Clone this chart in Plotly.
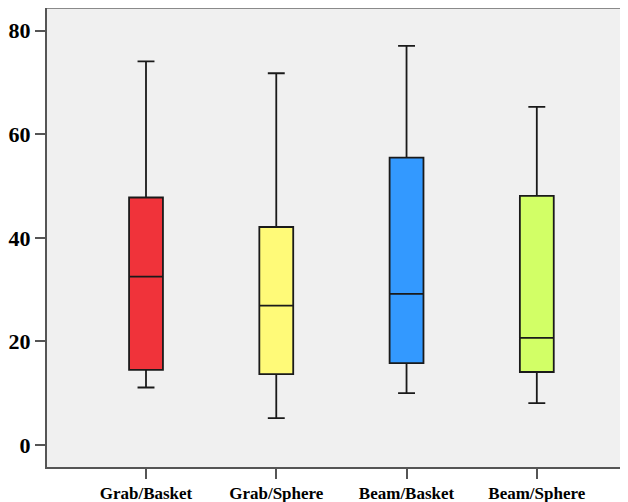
import plotly.graph_objects as go

categories = ["Grab/Basket", "Grab/Sphere", "Beam/Basket", "Beam/Sphere"]
lower = [11.1, 5.2, 10.0, 8.1]
q1 = [14.5, 13.7, 15.8, 14.1]
median = [32.5, 26.9, 29.2, 20.7]
q3 = [47.8, 42.1, 55.5, 48.1]
upper = [74.1, 71.8, 77.1, 65.3]
colors = ["#F0333A", "#FFFA78", "#3399FF", "#D2FF66"]
y_ticks = [0, 20, 40, 60, 80]

fig = go.Figure()
for i, cat in enumerate(categories):
    fig.add_trace(go.Box(
        x=[i], q1=[q1[i]], median=[median[i]], q3=[q3[i]],
        lowerfence=[lower[i]], upperfence=[upper[i]],
        fillcolor=colors[i], line=dict(color="#1a1a1a", width=1.8),
        width=0.26, whiskerwidth=0.5, boxpoints=False, showlegend=False,
        hoverinfo="skip",
    ))

fig.add_shape(type="line", xref="paper", yref="paper", x0=0, x1=1, y0=1, y1=1,
              line=dict(color="#8a8a8a", width=2))

# page body has an 8px default margin, so the figure is offset by 8px
fig.update_layout(
    width=620, height=494,
    margin=dict(l=39, r=0, t=0, b=35, autoexpand=False),
    paper_bgcolor="white", plot_bgcolor="#F0F0F0",
    showlegend=False,
)
fig.update_xaxes(
    range=[-0.76, 3.70], tickmode="array", tickvals=list(range(len(categories))),
    ticktext=categories, showgrid=False, zeroline=False, automargin=False,
    showline=True, linecolor="#555555", linewidth=2,
    ticks="outside", ticklen=10, tickwidth=2, tickcolor="#555555",
    tickfont=dict(family="Liberation Serif", size=17, color="black", weight="bold"),
)
fig.update_yaxes(
    range=[-4.25, 84.4], tickmode="array", tickvals=y_ticks,
    ticktext=[str(v) for v in y_ticks], showgrid=False, zeroline=False, automargin=False,
    showline=True, linecolor="#555555", linewidth=2,
    ticks="outside", ticklen=10, tickwidth=2, tickcolor="#555555",
    tickfont=dict(family="Liberation Serif", size=22, color="black", weight="bold"),
)

fig.write_html("out.html")
